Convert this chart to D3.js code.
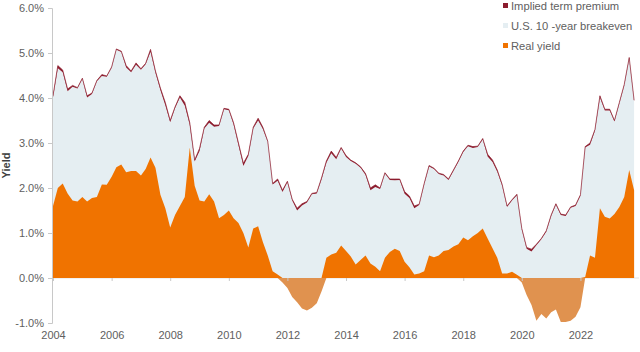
<!DOCTYPE html>
<html>
<head>
<meta charset="utf-8">
<script src="https://cdn.jsdelivr.net/npm/d3@7"></script>
<style>
  body { margin: 0; background: #fff; }
  text { font-family: Arial, "Liberation Sans", sans-serif; }
</style>
</head>
<body>
<div id="container"></div>
<script>
// bi-monthly observations, Jan 2004 .. Nov 2023 (120 points)
const startDate = new Date(2004, 0, 1);
const monthStep = 2;

const realYield = [
  1.60, 2.00, 2.10, 1.88, 1.72, 1.70, 1.80, 1.70, 1.78, 1.80,
  2.08, 2.07, 2.25, 2.46, 2.52, 2.35, 2.38, 2.38, 2.28, 2.42,
  2.68, 2.45, 1.85, 1.55, 1.12, 1.40, 1.60, 1.80, 2.90, 2.05,
  1.72, 1.70, 1.86, 1.70, 1.33, 1.40, 1.50, 1.33, 1.22, 1.00,
  0.68, 1.10, 1.15, 0.80, 0.50, 0.15, 0.08, -0.10, -0.22, -0.42,
  -0.54, -0.68, -0.72, -0.66, -0.56, -0.30, 0.45, 0.52, 0.56, 0.72,
  0.60, 0.48, 0.30, 0.40, 0.50, 0.32, 0.25, 0.15, 0.45, 0.58,
  0.65, 0.60, 0.36, 0.24, 0.08, 0.10, 0.15, 0.50, 0.46, 0.50,
  0.60, 0.62, 0.70, 0.75, 0.90, 0.84, 0.93, 1.00, 1.10, 0.88,
  0.66, 0.45, 0.10, 0.10, 0.14, 0.07, -0.10, -0.38, -0.60, -0.95,
  -0.80, -0.90, -0.76, -0.70, -0.98, -0.98, -0.95, -0.86, -0.65, 0.02,
  0.50, 0.45, 1.55, 1.36, 1.32, 1.42, 1.58, 1.80, 2.40, 1.95
];

const breakeven = [
  2.41, 2.66, 2.47, 2.27, 2.53, 2.51, 2.62, 2.31, 2.31, 2.57,
  2.41, 2.40, 2.42, 2.61, 2.50, 2.33, 2.19, 2.36, 2.35, 2.33,
  2.35, 2.11, 2.32, 2.29, 2.34, 2.37, 2.41, 2.03, 0.50, 0.54,
  1.10, 1.62, 1.59, 1.66, 2.05, 2.35, 2.23, 2.08, 1.73, 1.49,
  2.03, 2.22, 2.35, 2.51, 2.52, 1.93, 2.08, 2.01, 2.35, 2.14,
  2.04, 2.29, 2.40, 2.52, 2.44, 2.49, 2.11, 2.25, 2.08, 2.16,
  2.09, 2.12, 2.24, 2.05, 1.79, 1.63, 1.77, 1.83, 1.87, 1.60,
  1.52, 1.58, 1.51, 1.54, 1.47, 1.52, 1.93, 1.98, 1.96, 1.81,
  1.68, 1.56, 1.68, 1.83, 1.90, 2.09, 1.96, 1.91, 1.98, 1.82,
  1.92, 1.91, 1.95, 1.48, 1.58, 1.77, 1.18, 1.03, 1.19, 1.68,
  1.66, 1.93, 2.14, 2.33, 2.38, 2.36, 2.51, 2.46, 2.48, 2.88,
  2.46, 2.82, 2.46, 2.36, 2.40, 2.06, 2.30, 2.48, 2.48, 1.98
];

const termPremium = [
  0.04, 0.06, 0.05, 0.05, 0.03, 0.02, 0.02, 0.04, 0.02, 0.02,
  0.03, 0.02, 0.02, 0.02, 0.02, 0.04, 0.03, 0.04, 0.02, 0.02,
  0.05, 0.04, 0.05, 0.06, 0.04, 0.03, 0.04, 0.07, 0.05, 0.03,
  0.06, 0.03, 0.05, 0.04, 0.02, 0.02, 0.02, 0.04, 0.05, 0.06,
  0.04, 0.03, 0.05, 0.04, 0.02, 0.02, 0.04, 0.04, 0.02, 0.03,
  0.05, 0.04, 0.02, 0.02, 0.02, 0.03, 0.04, 0.05, 0.04, 0.02,
  0.03, 0.02, 0.02, 0.02, 0.03, 0.05, 0.05, 0.02, 0.02, 0.02,
  0.03, 0.02, 0.05, 0.04, 0.05, 0.02, 0.02, 0.02, 0.02, 0.02,
  0.02, 0.02, 0.02, 0.02, 0.02, 0.02, 0.03, 0.02, 0.02, 0.05,
  0.04, 0.04, 0.03, 0.02, 0.02, 0.02, 0.02, 0.03, 0.05, 0.02,
  0.02, 0.02, 0.02, 0.02, 0.02, 0.02, 0.02, 0.02, 0.02, 0.02,
  0.04, 0.03, 0.04, 0.03, 0.03, 0.02, 0.02, 0.02, 0.02, 0.02
];

const yTicks = [-1, 0, 1, 2, 3, 4, 5, 6];
const xTickYears = [2004, 2006, 2008, 2010, 2012, 2014, 2016, 2018, 2020, 2022];
const legendLabels = ["Implied term premium", "U.S. 10 -year breakeven", "Real yield"];

const colors = {
  term: "#8c1c2e",
  breakeven: "#e5eef2",
  real: "#f07300",
  realNeg: "#e0924f"
};

const width = 640;
const height = 352;

const data = realYield.map((r, i) => ({
  date: d3.timeMonth.offset(startDate, i * monthStep),
  real: r,
  be: breakeven[i],
  tp: termPremium[i]
}));

const svg = d3.select("#container")
  .append("svg")
    .attr("width", width)
    .attr("height", height);

const x = d3.scaleTime()
  .domain([new Date(2004, 0, 1), new Date(2024, 0, 1)])
  .range([53, 639]);

const y = d3.scaleLinear()
  .domain([-1, 6])
  .range([323, 8]);

// breakeven sits on top of real yield
const beArea = d3.area()
  .x((d) => x(d.date))
  .y0(y(0))
  .y1((d) => y(d.real + d.be));

const tpArea = d3.area()
  .x((d) => x(d.date))
  .y0((d) => y(d.real + d.be))
  .y1((d) => y(d.real + d.be + d.tp));

const topLine = d3.line()
  .x((d) => x(d.date))
  .y((d) => y(d.real + d.be + d.tp));

const realPos = d3.area()
  .x((d) => x(d.date))
  .y0(y(0))
  .y1((d) => y(Math.max(d.real, 0)));

const realNeg = d3.area()
  .x((d) => x(d.date))
  .y0(y(0))
  .y1((d) => y(Math.min(d.real, 0)));

svg.append("path").attr("d", beArea(data)).attr("fill", colors.breakeven);
svg.append("path").attr("d", tpArea(data)).attr("fill", colors.term);
svg.append("path").attr("d", topLine(data))
  .attr("fill", "none")
  .attr("stroke", colors.term)
  .attr("stroke-width", 0.7);
svg.append("path").attr("d", realPos(data)).attr("fill", colors.real);
svg.append("path").attr("d", realNeg(data)).attr("fill", colors.realNeg);

// y axis
const yAxis = svg.append("g")
  .attr("transform", `translate(52,0)`)
  .call(d3.axisLeft(y).tickValues(yTicks).tickSize(4).tickPadding(4)
    .tickFormat((d) => d.toFixed(1) + "%"));
yAxis.select(".domain").attr("stroke", "#c8c8c8");
yAxis.selectAll(".tick line").attr("stroke", "#c8c8c8");
yAxis.selectAll("text")
  .attr("fill", "#606060")
  .style("font-size", "11px");

// x axis: ticks on the zero line, labels at the bottom
const xAxis = svg.append("g")
  .attr("transform", `translate(0,${y(0)})`)
  .call(d3.axisBottom(x)
    .tickValues(xTickYears.map((yr) => new Date(yr, 0, 1)))
    .tickSize(3)
    .tickFormat(d3.timeFormat("%Y")));
xAxis.select(".domain").remove();
xAxis.selectAll(".tick line").attr("stroke", "#c8c8c8");
xAxis.selectAll("text")
  .attr("y", y(-1) - y(0) + 8)
  .attr("fill", "#606060")
  .style("font-size", "11px");

svg.append("line")
  .attr("x1", 52).attr("x2", 639)
  .attr("y1", y(0)).attr("y2", y(0))
  .attr("stroke", "#d0d0d0")
  .attr("stroke-width", 0.6)
  .lower();

svg.append("text")
  .text("Yield")
  .attr("transform", `translate(10,${(y(6) + y(-1)) / 2}) rotate(-90)`)
  .attr("text-anchor", "middle")
  .attr("fill", "#404040")
  .style("font-size", "11px")
  .style("font-weight", "bold");

// legend
const legendColors = [colors.term, colors.breakeven, colors.real];
const legend = svg.selectAll(".legend")
  .data(legendLabels)
  .enter()
  .append("g")
    .attr("class", "legend")
    .attr("transform", (d, i) => `translate(503,${6 + i * 20})`);

legend.append("rect")
  .attr("x", 0).attr("y", -3)
  .attr("width", 5).attr("height", 5)
  .attr("fill", (d, i) => legendColors[i]);

legend.append("text")
  .text((d) => d)
  .attr("x", 8)
  .attr("y", 4)
  .attr("fill", "#606060")
  .style("font-size", "11.2px");
</script>
</body>
</html>
